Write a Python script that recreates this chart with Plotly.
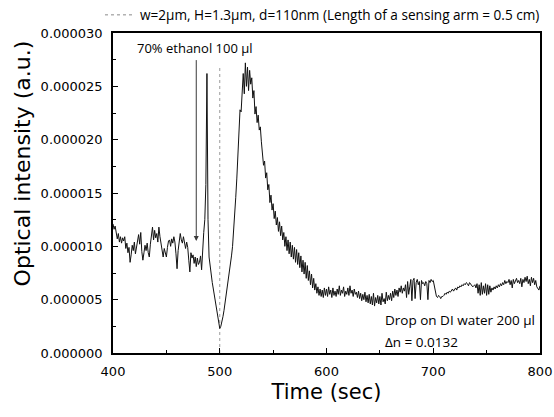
import plotly.graph_objects as go

# ---------------- data ----------------
time_start = 400
time_stop = 800
time_sec = list(range(time_start, time_stop + 1))  # 1 s sampling grid

# optical intensity in micro-units (x 1e-6 a.u.), one value per second 400..800
intensity_micro = [
    12.1, 11.6, 11.9, 11.0, 10.7, 11.2, 10.4, 10.9, 10.3, 10.8,   # 400
    10.5, 10.9, 9.8, 10.3, 9.4, 9.9, 8.5, 9.2, 10.1, 9.6,         # 410
    10.4, 9.3, 9.8, 10.6, 11.1, 10.2, 11.3, 9.5, 8.7, 9.4,        # 420
    10.1, 9.6, 10.3, 9.4, 9.0, 10.2, 11.0, 11.8, 10.6, 11.5,      # 430
    10.8, 11.2, 10.4, 11.8, 10.9, 10.1, 9.4, 9.0, 9.8, 9.2,       # 440
    9.0, 9.9, 10.5, 10.6, 10.0, 10.7, 10.3, 10.9, 10.4, 9.3,      # 450
    7.9, 9.6, 10.8, 11.2, 10.6, 10.3, 10.9, 10.2, 9.8, 10.4,      # 460
    9.9, 8.7, 7.6, 9.4, 8.9, 9.2, 8.4, 9.0, 8.1, 8.9,             # 470
    8.3, 8.5, 9.1, 7.8, 10.0, 11.3, 12.5, 15.8, 26.2, 12.5,       # 480
    9.0, 8.0, 7.3, 6.6, 6.0, 5.3, 4.7, 4.1, 3.4, 2.9,             # 490
    2.3, 2.5, 2.9, 3.4, 4.0, 4.7, 5.3, 6.0, 6.8, 7.5,             # 500
    8.3, 9.1, 10.0, 11.3, 12.8, 14.6, 16.4, 18.5, 21.5, 22.8,     # 510
    22.6, 24.9, 26.2, 24.3, 27.2, 25.0, 26.8, 24.6, 26.5, 25.2,   # 520
    25.8, 23.9, 24.6, 22.4, 23.1, 21.6, 22.3, 20.9, 21.2, 19.8,   # 530
    18.8, 17.6, 18.0, 16.4, 16.9, 15.3, 15.8, 14.1, 14.8, 13.4,   # 540
    14.0, 12.6, 13.3, 12.0, 12.7, 11.4, 12.3, 11.0, 11.9, 10.6,   # 550
    11.3, 10.0, 10.9, 9.6, 10.6, 9.3, 10.4, 9.0, 10.1, 8.8,       # 560
    9.9, 8.5, 9.7, 8.3, 9.4, 8.0, 9.1, 7.6, 8.7, 7.4,             # 570
    8.5, 7.0, 8.2, 6.8, 7.7, 6.4, 7.4, 6.1, 7.0, 5.9,             # 580
    6.5, 5.6, 6.2, 5.4, 6.0, 5.3, 5.9, 5.2, 6.1, 5.4,             # 590
    6.0, 5.3, 6.2, 5.5, 5.9, 5.2, 6.1, 5.4, 5.8, 5.3,             # 600
    6.0, 5.5, 6.3, 5.4, 5.9, 5.6, 6.2, 5.3, 5.8, 5.5,             # 610
    6.1, 5.4, 6.3, 5.6, 5.9, 5.3, 6.0, 5.5, 5.7, 5.2,             # 620
    5.8, 5.1, 5.6, 4.9, 5.5, 5.0, 5.7, 4.8, 5.4, 4.7,             # 630
    5.5, 4.6, 5.3, 4.5, 5.6, 4.4, 5.2, 4.7, 5.4, 4.6,             # 640
    5.3, 4.5, 5.6, 4.8, 5.1, 4.6, 5.7, 4.9, 5.4, 5.0,             # 650
    5.6, 4.9, 5.8, 5.2, 6.0, 5.4, 5.9, 5.3, 6.1, 5.7,             # 660
    6.3, 5.6, 6.1, 5.8, 6.4, 5.2, 6.7, 5.5, 6.2, 6.9,             # 670
    4.9, 6.8, 7.0, 5.1, 6.6, 6.9, 6.4, 6.7, 5.0, 6.8,             # 680
    6.5, 6.6, 6.3, 6.7, 6.5, 5.0, 6.8, 6.6, 6.9, 6.7,             # 690
    6.8, 6.2, 5.6, 5.3, 5.2, 5.4, 5.3, 5.1, 5.3, 5.3,             # 700
    5.4, 5.6, 5.5, 5.7, 5.6, 5.8, 5.7, 5.9, 6.0, 5.8,             # 710
    6.0, 6.1, 5.9, 6.2, 6.1, 6.3, 6.2, 6.4, 6.3, 6.5,             # 720
    6.4, 6.6, 6.5, 6.3, 6.6, 6.5, 6.4, 6.2, 6.3, 6.4,             # 730
    6.1, 6.5, 5.6, 6.4, 5.4, 6.6, 5.5, 6.3, 5.6, 6.5,             # 740
    5.4, 6.4, 5.5, 6.3, 5.7, 6.1, 5.9, 6.2, 6.0, 6.3,             # 750
    6.1, 6.4, 6.2, 6.5, 6.3, 6.6, 6.4, 6.8, 6.5, 6.7,             # 760
    6.6, 6.9, 6.4, 6.8, 6.1, 6.9, 6.5, 6.7, 7.0, 6.6,             # 770
    6.8, 6.5, 7.0, 6.2, 6.9, 6.6, 7.1, 6.7, 7.2, 6.5,             # 780
    6.9, 6.3, 7.1, 6.6, 7.0, 6.4, 6.8, 6.2, 6.0, 5.9,             # 790
    6.3,                                                          # 800
]
intensity = [v * 1e-6 for v in intensity_micro]

# dotted marker line at the injection time
marker_time = [500, 500]
marker_level = [0.0, 26.8e-6]

# injection arrow (tip and tail)
arrow_time = 478
arrow_tip = 10.5e-6
arrow_tail = 27.6e-6

series_name = "w=2\u03bcm, H=1.3\u03bcm, d=110nm (Length of a sensing arm = 0.5 cm)"
label_ethanol = "70% ethanol 100 \u03bcl"
label_drop = "Drop on DI water 200 \u03bcl"
label_dn = "\u0394n = 0.0132"

x_ticks = [400, 500, 600, 700, 800]
y_ticks = [0.0, 0.000005, 0.000010, 0.000015, 0.000020, 0.000025, 0.000030]

# ---------------- figure ----------------
fig = go.Figure()

fig.add_trace(go.Scatter(
    x=marker_time, y=marker_level, mode="lines",
    line=dict(color="#9a9a9a", width=1, dash="dot"),
    showlegend=False, hoverinfo="skip"))

fig.add_trace(go.Scatter(
    x=time_sec, y=intensity, mode="lines",
    line=dict(color="#111111", width=1),
    showlegend=False))

# legend-only sample (thin grey dotted line)
fig.add_trace(go.Scatter(
    x=[None], y=[None], mode="lines", name=series_name,
    line=dict(color="#8a8a8a", width=1, dash="dot"),
    showlegend=True))

tick_font = dict(family="DejaVu Sans", size=13, color="black")
label_font = dict(family="Open Sans", size=13.5, color="black")

fig.update_xaxes(
    range=[400, 800], tickvals=x_ticks, ticktext=[str(v) for v in x_ticks],
    ticks="inside", ticklen=5, tickwidth=1, tickcolor="black",
    minor=dict(ticks="inside", ticklen=3, dtick=50, tick0=400, tickcolor="black"),
    showline=True, linewidth=1.5, linecolor="black", mirror=True,
    showgrid=False, zeroline=False, tickfont=tick_font, automargin=False,
    ticklabelstandoff=6,
    title=dict(text="Time (sec)", font=dict(family="DejaVu Sans", size=21, color="black"),
               standoff=6),
)
fig.update_yaxes(
    range=[0, 0.00003], tickvals=y_ticks, ticktext=["%.6f" % v for v in y_ticks],
    ticks="inside", ticklen=5, tickwidth=1, tickcolor="black",
    minor=dict(ticks="inside", ticklen=3, dtick=0.0000025, tick0=0, tickcolor="black"),
    showline=True, linewidth=1.5, linecolor="black", mirror=True,
    showgrid=False, zeroline=False, tickfont=tick_font, automargin=False,
    ticklabelstandoff=6,
)

fig.add_annotation(
    x=arrow_time, y=arrow_tip, ax=arrow_time, ay=arrow_tail,
    xref="x", yref="y", axref="x", ayref="y",
    text="", showarrow=True, arrowhead=2, arrowsize=1, arrowwidth=1,
    arrowcolor="#3a3a3a")

fig.add_annotation(x=420.3, y=28.6e-6, xref="x", yref="y", text=label_ethanol,
                   showarrow=False, xanchor="left", yanchor="middle",
                   font=dict(family="Open Sans", size=13, color="black"))
fig.add_annotation(x=652.8, y=3.1e-6, xref="x", yref="y", text=label_drop,
                   showarrow=False, xanchor="left", yanchor="middle", font=label_font)
fig.add_annotation(x=652.8, y=1.0e-6, xref="x", yref="y", text=label_dn,
                   showarrow=False, xanchor="left", yanchor="middle", font=label_font)

fig.add_annotation(x=-0.212, y=0.594, xref="paper", yref="paper",
                   text="Optical intensity (a.u.)", textangle=-90, showarrow=False,
                   xanchor="center", yanchor="middle",
                   font=dict(family="DejaVu Sans", size=22, color="black"))

fig.update_layout(
    width=554, height=417,
    margin=dict(l=113, r=14, t=33, b=64, autoexpand=False),
    plot_bgcolor="white", paper_bgcolor="white",
    legend=dict(x=0.1805, y=0.964, xref="container", yref="container",
                xanchor="left", yanchor="middle", orientation="h",
                bgcolor="rgba(0,0,0,0)", borderwidth=0,
                font=dict(family="Open Sans", size=13.6, color="black")),
)

fig.write_html("out.html", config={"displayModeBar": False},
               post_script="document.body.style.margin='0px';document.body.style.overflow='hidden';")
